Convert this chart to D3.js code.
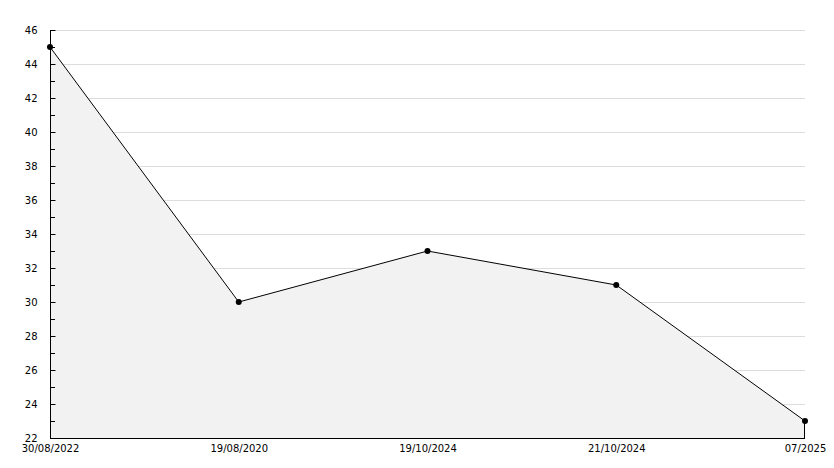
<!DOCTYPE html>
<html><head><meta charset="utf-8">
<script src="https://cdn.jsdelivr.net/npm/d3@7"></script>
<style>body{margin:0;background:#fff}svg{display:block}text{font-family:"DejaVu Sans",sans-serif;font-size:10px;fill:#000}</style>
</head><body><svg id="c" width="834" height="468"></svg>
<script>
const categories = ["30/08/2022","19/08/2020","19/10/2024","21/10/2024","07/2025"];
const values = [45,30,33,31,23];
const yTicks = [22,24,26,28,30,32,34,36,38,40,42,44,46];
const yMinor = [23,25,27,29,31,33,35,37,39,41,43,45];

const svg = d3.select("#c");
const L=50,R=805,T=30,B=438;
const x = d3.scalePoint().domain(categories).range([L,R]);
const y = d3.scaleLinear().domain([22,46]).range([B,T]);

// grid
svg.append("g").selectAll("line").data(yTicks.slice(1)).join("line")
 .attr("x1",L).attr("x2",R).attr("y1",d=>Math.round(y(d))+0.5).attr("y2",d=>Math.round(y(d))+0.5)
 .attr("stroke","#dddddd");

const data = categories.map((c,i)=>({c,v:values[i]}));
svg.append("path").datum(data)
 .attr("d",d3.area().x(d=>x(d.c)).y0(B).y1(d=>y(d.v)))
 .attr("fill","#f2f2f2");
svg.append("line").attr("x1",R-0.5).attr("x2",R-0.5).attr("y1",y(values[values.length-1])).attr("y2",B).attr("stroke","#000");
svg.append("path").datum(data)
 .attr("d",d3.line().x(d=>x(d.c)).y(d=>y(d.v)))
 .attr("fill","none").attr("stroke","#000").attr("stroke-width",1);
svg.append("g").selectAll("circle").data(data).join("circle")
 .attr("cx",d=>x(d.c)).attr("cy",d=>y(d.v)).attr("r",3).attr("fill","#000");

// y axis
const ya = svg.append("g").attr("transform",`translate(${L+0.5},0)`)
 .call(d3.axisLeft(y).tickValues(yTicks).tickSize(-5).tickPadding(13).tickFormat(d3.format("d")));
ya.select(".domain").attr("d",`M0,${T}V${B+0.5}`);
ya.selectAll("text").attr("font-size",10).attr("font-family","DejaVu Sans").attr("dy","0.35em");
svg.append("g").selectAll("line").data(yMinor).join("line")
 .attr("x1",L).attr("x2",L+5).attr("y1",d=>Math.round(y(d))+0.5).attr("y2",d=>Math.round(y(d))+0.5).attr("stroke","#000");

// x axis
const xa = svg.append("g").attr("transform",`translate(0,${B+0.5})`)
 .call(d3.axisBottom(x).tickSize(0).tickPadding(6));
xa.select(".domain").attr("d",`M${L},0H${R}`);
xa.selectAll("text").attr("font-size",10).attr("font-family","DejaVu Sans");
</script></body></html>
